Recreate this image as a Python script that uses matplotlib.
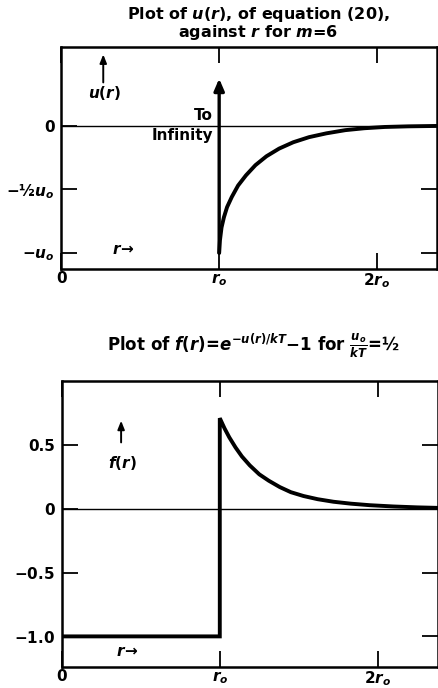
import matplotlib
matplotlib.use('Agg')
import matplotlib.pyplot as plt

# bold sans everywhere, bold italic for the symbols
plt.rcParams['font.family'] = 'DejaVu Sans'
plt.rcParams['font.weight'] = 'bold'
plt.rcParams['mathtext.fontset'] = 'custom'
plt.rcParams['mathtext.rm'] = 'DejaVu Sans:bold'
plt.rcParams['mathtext.it'] = 'DejaVu Sans:italic:bold'
plt.rcParams['mathtext.bf'] = 'DejaVu Sans:bold'

# --- u(r) in units of u0, r in units of r0 (m = 6) ---
r_u = [1.00, 1.005, 1.015, 1.03, 1.05, 1.08, 1.12, 1.17, 1.23, 1.30,
       1.38, 1.47, 1.57, 1.68, 1.80, 1.92, 2.05, 2.20, 2.38]
u_r = [-1.00, -0.90, -0.80, -0.72, -0.64, -0.56, -0.47, -0.39, -0.31, -0.24,
       -0.18, -0.13, -0.09, -0.06, -0.035, -0.02, -0.01, -0.005, -0.002]
u_ticks = [0, -0.5, -1.0]
u_ticklabels = ['0', r'$-$½$u_o$', r'$-u_o$']

# --- f(r) = exp(-u/kT) - 1 for u0/kT = 1/2 ---
r_f = [0.0, 1.0, 1.0, 1.03, 1.06, 1.10, 1.14, 1.19, 1.25, 1.31, 1.38,
       1.45, 1.53, 1.62, 1.72, 1.83, 1.95, 2.10, 2.25, 2.38]
f_r = [-1.0, -1.0, 0.71, 0.63, 0.56, 0.48, 0.41, 0.34, 0.27, 0.22, 0.17,
       0.13, 0.10, 0.075, 0.055, 0.04, 0.028, 0.018, 0.011, 0.007]
f_ticks = [0.5, 0, -0.5, -1.0]
f_ticklabels = ['0.5', '0', r'$-$0.5', r'$-$1.0']

r_ticks = [0, 1, 2]
r_ticklabels = ['0', r'$r_o$', r'$2r_o$']


def style_axes(ax):
    for s in ax.spines.values():
        s.set_linewidth(1.8)
    ax.tick_params(direction='in', length=11.5, width=1.3, labelsize=11,
                   top=True, right=True, labelright=False, labeltop=False)
    ax.tick_params(axis='y', pad=5)
    ax.tick_params(axis='x', pad=1.5)
    ax.axhline(0, color='black', lw=1.0, zorder=1)
    ax.set_xticks(r_ticks)
    ax.set_xticklabels(r_ticklabels)
    ax.set_xlim(0, 2.38)


fig = plt.figure(figsize=(4.39, 6.88), dpi=100)

# ---- upper panel: u(r) ----
ax1 = fig.add_axes([0.140, 0.609, 0.855, 0.323])
style_axes(ax1)
ax1.set_ylim(-1.126, 0.62)
ax1.set_yticks(u_ticks)
ax1.set_yticklabels(u_ticklabels)
ax1.plot(r_u, u_r, color='black', lw=2.8, solid_capstyle='round')
# hard core: u goes to infinity at r0
ax1.annotate('', xy=(1.0, 0.37), xytext=(1.0, -1.0),
             arrowprops=dict(arrowstyle='-|>,head_length=0.7,head_width=0.3',
                             color='black', lw=2.4, shrinkA=0, shrinkB=0))
ax1.text(0.90, 0.02, 'To', ha='center', va='bottom', fontsize=11)
ax1.text(0.96, -0.02, 'Infinity', ha='right', va='top', fontsize=11)
ax1.annotate('', xy=(0.265, 0.56), xytext=(0.265, 0.34),
             arrowprops=dict(arrowstyle='-|>,head_length=0.5,head_width=0.2',
                             color='black', lw=1.4, shrinkA=0, shrinkB=0))
ax1.text(0.27, 0.26, r'$u(r)$', ha='center', va='center', fontsize=11)
ax1.text(0.32, -0.97, r'$r\!\rightarrow$', ha='left', va='center', fontsize=11)
fig.text(0.588, 0.993, r'Plot of $u(r)$, of equation (20),' + '\n' +
         r'against $r$ for $m$=6', ha='center', va='top', fontsize=11.5,
         linespacing=0.92)

# ---- lower panel: f(r) ----
ax2 = fig.add_axes([0.141, 0.0305, 0.856, 0.4155])
style_axes(ax2)
ax2.set_ylim(-1.24, 1.0)
ax2.set_yticks(f_ticks)
ax2.set_yticklabels(f_ticklabels)
ax2.plot(r_f, f_r, color='black', lw=2.8, solid_joinstyle='miter')
ax2.annotate('', xy=(0.375, 0.69), xytext=(0.375, 0.52),
             arrowprops=dict(arrowstyle='-|>,head_length=0.5,head_width=0.2',
                             color='black', lw=1.4, shrinkA=0, shrinkB=0))
ax2.text(0.385, 0.36, r'$f(r)$', ha='center', va='center', fontsize=11)
ax2.text(0.34, -1.12, r'$r\!\rightarrow$', ha='left', va='center', fontsize=11)
fig.text(0.578, 0.497, r'Plot of $f(r)$=$e^{-u(r)/kT}$$-$1 for $\frac{u_o}{kT}$=½',
         ha='center', va='center', fontsize=12)

fig.savefig('out.png', dpi=100)
